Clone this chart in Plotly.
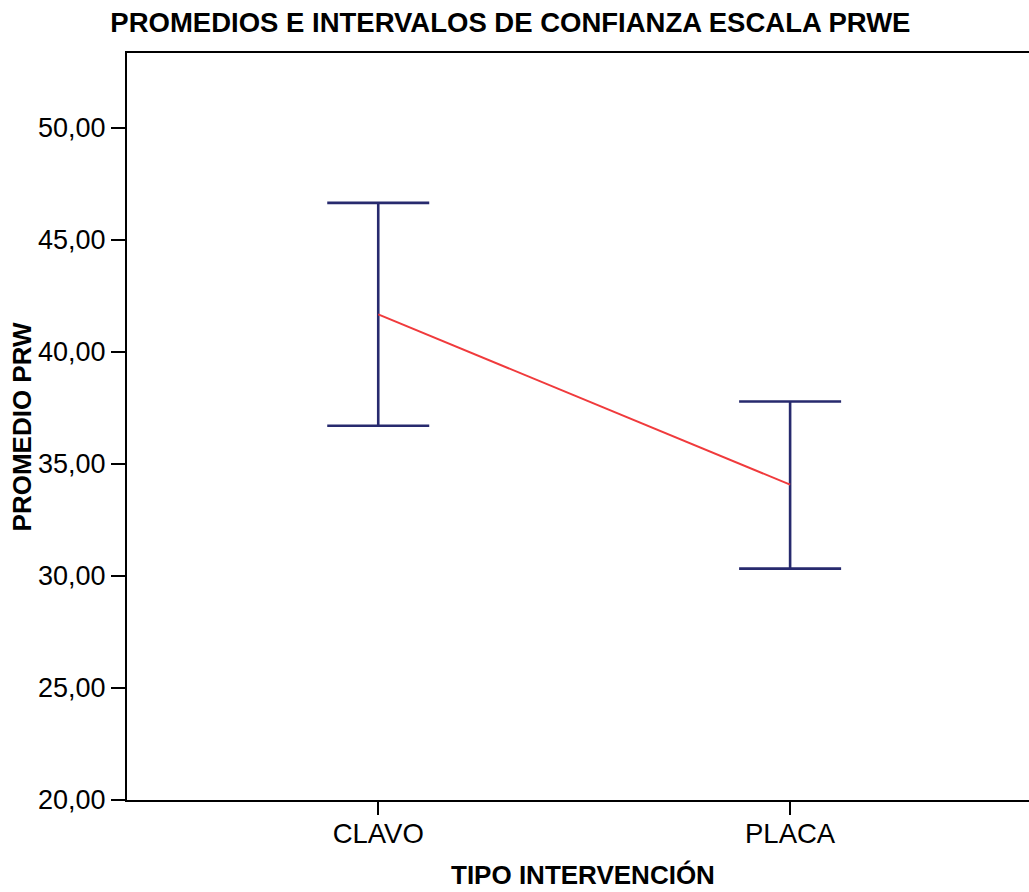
import plotly.graph_objects as go

categories = ["CLAVO", "PLACA"]
means = [41.68, 34.08]
upper = [46.66, 37.79]
lower = [36.71, 30.33]
y_ticks = [20, 25, 30, 35, 40, 45, 50]

x_pos = list(range(len(categories)))
err_plus = [u - m for u, m in zip(upper, means)]
err_minus = [m - l for m, l in zip(means, lower)]

FONT = "Liberation Sans, Arial, sans-serif"

fig = go.Figure()
fig.add_trace(go.Scatter(
    x=x_pos, y=means, mode="lines",
    line=dict(color="#f03a3c", width=2),
    error_y=dict(type="data", symmetric=False, array=err_plus, arrayminus=err_minus,
                 color="#272a6e", thickness=2.6, width=51),
    showlegend=False, hoverinfo="skip",
))

fig.update_layout(
    width=1029, height=892,
    margin=dict(l=127, r=0, t=53, b=92),
    paper_bgcolor="white", plot_bgcolor="white",
    separators=",.",
    font=dict(family=FONT, color="black"),
    title=dict(text="<b>PROMEDIOS E INTERVALOS DE CONFIANZA ESCALA PRWE</b>",
               x=0.496, xref="container", xanchor="center",
               y=1 - 22 / 892, yref="container", yanchor="middle",
               font=dict(size=27.5, family=FONT, color="black")),
    xaxis=dict(range=[-0.61, 1.58], tickvals=x_pos, ticktext=categories,
               showline=True, linecolor="black", linewidth=2, mirror=True,
               ticks="outside", ticklen=13, tickwidth=2, tickcolor="black",
               ticklabelstandoff=-5,
               showgrid=False, zeroline=False,
               tickfont=dict(size=27.5, family=FONT, color="black")),
    yaxis=dict(range=[20, 53.35], tickvals=y_ticks, tickformat=".2f",
               showline=True, linecolor="black", linewidth=2,
               ticks="outside", ticklen=14, tickwidth=2, tickcolor="black",
               showgrid=False, zeroline=False,
               tickfont=dict(size=27, family=FONT, color="black")),
    annotations=[
        dict(text="<b>TIPO INTERVENCIÓN</b>", xref="paper", yref="paper",
             x=0.506, y=-0.1008, xanchor="center", yanchor="middle",
             showarrow=False, font=dict(size=26, family=FONT, color="black")),
        dict(text="<b>PROMEDIO PRW</b>", xref="paper", yref="paper",
             x=-0.1165, y=0.5, xanchor="center", yanchor="middle", textangle=-90,
             showarrow=False, font=dict(size=26, family=FONT, color="black")),
    ],
)

fig.write_html(
    "out.html",
    config={"displayModeBar": False},
    post_script="document.body.style.margin='0';document.body.style.overflow='hidden';",
)
